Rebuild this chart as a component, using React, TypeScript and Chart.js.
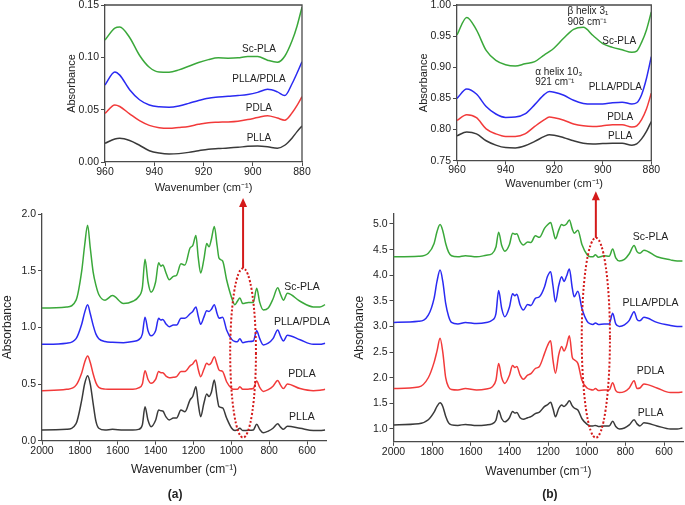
import React, { useEffect, useRef } from "react";
import { Chart, registerables } from "chart.js";

Chart.register(...registerables);

const FONT = "'Liberation Sans', Arial, Helvetica, sans-serif";
const TEXT = "#222";
const AXIS = "#4a4a4a";
const RED_MARK = "#d41a1a";
const SERIES_COLORS = ["#3aa83a", "#2a2af2", "#f23a3a", "#3a3a3a"];
const SERIES_NAMES = ["Sc-PLA", "PLLA/PDLA", "PDLA", "PLLA"];

// ---------- full range spectra (a) and (b) ----------
const WN_FULL = [2000, 1870, 1820, 1790, 1775, 1759, 1745, 1730, 1715, 1700, 1667, 1628, 1570, 1520, 1490, 1470, 1456, 1440, 1424, 1400, 1384, 1372, 1362, 1345, 1328, 1306, 1289, 1266, 1245, 1218, 1204, 1187, 1175, 1162, 1145, 1130, 1118, 1105, 1090, 1075, 1065, 1046, 1025, 998, 981, 968, 955, 940, 910, 884, 866, 850, 831, 805, 780, 755, 740, 725, 704, 637, 567, 532, 505];

const A_SC = [1.17, 1.18, 1.24, 1.5, 1.72, 1.9, 1.7, 1.49, 1.37, 1.29, 1.24, 1.28, 1.21, 1.23, 1.27, 1.35, 1.6, 1.4, 1.31, 1.4, 1.57, 1.54, 1.55, 1.48, 1.42, 1.45, 1.46, 1.56, 1.55, 1.7, 1.72, 1.81, 1.62, 1.48, 1.6, 1.74, 1.71, 1.78, 1.89, 1.72, 1.61, 1.585, 1.42, 1.26, 1.2, 1.23, 1.26, 1.21, 1.22, 1.22, 1.345, 1.22, 1.153, 1.17, 1.25, 1.35, 1.29, 1.24, 1.3, 1.23, 1.18, 1.18, 1.2];
const A_BLEND = [0.85, 0.86, 0.9, 1.03, 1.13, 1.2, 1.12, 1.02, 0.94, 0.9, 0.875, 0.868, 0.865, 0.875, 0.89, 0.94, 1.09, 0.97, 0.926, 0.97, 1.08, 1.065, 1.07, 1.03, 1.006, 1.02, 1.02, 1.08, 1.08, 1.12, 1.14, 1.18, 1.1, 1.027, 1.09, 1.147, 1.14, 1.16, 1.2, 1.12, 1.08, 1.09, 0.977, 0.894, 0.875, 0.873, 0.9, 0.865, 0.875, 0.88, 0.97, 0.9, 0.845, 0.86, 0.9, 0.977, 0.92, 0.88, 0.93, 0.89, 0.85, 0.85, 0.86];
const A_PDLA = [0.441, 0.453, 0.49, 0.6, 0.69, 0.747, 0.69, 0.59, 0.51, 0.47, 0.455, 0.453, 0.453, 0.453, 0.465, 0.5, 0.618, 0.54, 0.506, 0.54, 0.61, 0.6, 0.6, 0.57, 0.556, 0.56, 0.565, 0.61, 0.61, 0.66, 0.677, 0.712, 0.63, 0.565, 0.63, 0.683, 0.67, 0.69, 0.741, 0.67, 0.624, 0.61, 0.52, 0.46, 0.453, 0.453, 0.476, 0.453, 0.455, 0.46, 0.527, 0.47, 0.435, 0.45, 0.48, 0.53, 0.49, 0.46, 0.5, 0.46, 0.441, 0.445, 0.453];
const A_PLLA = [0.094, 0.1, 0.15, 0.36, 0.5, 0.573, 0.5, 0.33, 0.17, 0.11, 0.095, 0.1, 0.094, 0.094, 0.1, 0.14, 0.3, 0.18, 0.124, 0.18, 0.27, 0.265, 0.262, 0.21, 0.183, 0.2, 0.2, 0.27, 0.255, 0.36, 0.39, 0.476, 0.33, 0.212, 0.33, 0.412, 0.39, 0.43, 0.535, 0.38, 0.3, 0.29, 0.2, 0.11, 0.09, 0.095, 0.11, 0.09, 0.092, 0.095, 0.145, 0.1, 0.07, 0.085, 0.11, 0.15, 0.12, 0.1, 0.127, 0.11, 0.09, 0.09, 0.094];

const B_SC = [4.36, 4.37, 4.43, 4.62, 4.85, 4.99, 4.87, 4.62, 4.45, 4.38, 4.36, 4.38, 4.36, 4.39, 4.42, 4.55, 4.84, 4.58, 4.47, 4.6, 4.82, 4.8, 4.81, 4.66, 4.59, 4.65, 4.64, 4.77, 4.74, 4.92, 4.98, 5.03, 4.88, 4.71, 4.88, 4.99, 4.97, 5.0, 5.08, 4.9, 4.82, 4.88, 4.6, 4.4, 4.36, 4.36, 4.4, 4.35, 4.38, 4.37, 4.51, 4.34, 4.28, 4.31, 4.42, 4.58, 4.46, 4.43, 4.49, 4.36, 4.3, 4.28, 4.28];
const B_BLEND = [3.08, 3.1, 3.22, 3.55, 3.88, 4.1, 3.88, 3.45, 3.2, 3.08, 3.05, 3.08, 3.06, 3.08, 3.12, 3.25, 3.7, 3.35, 3.19, 3.38, 3.64, 3.6, 3.63, 3.42, 3.32, 3.43, 3.41, 3.55, 3.58, 3.78, 3.97, 4.07, 3.8, 3.48, 3.8, 3.97, 3.88, 3.98, 4.12, 3.75, 3.58, 3.69, 3.35, 3.1, 3.05, 3.04, 3.07, 3.04, 3.05, 3.05, 3.26, 3.05, 3.0, 3.03, 3.12, 3.29, 3.14, 3.11, 3.18, 3.08, 3.02, 3.0, 3.0];
const B_PDLA = [1.79, 1.82, 2.0, 2.3, 2.52, 2.77, 2.5, 2.0, 1.82, 1.77, 1.76, 1.79, 1.76, 1.78, 1.82, 1.95, 2.28, 2.0, 1.89, 2.05, 2.24, 2.2, 2.22, 2.05, 1.97, 2.05, 2.08, 2.18, 2.22, 2.48, 2.62, 2.72, 2.35, 2.09, 2.45, 2.61, 2.52, 2.62, 2.82, 2.4, 2.35, 2.28, 1.95, 1.8, 1.77, 1.76, 1.79, 1.75, 1.76, 1.76, 1.9, 1.75, 1.71, 1.73, 1.8, 1.94, 1.79, 1.8, 1.88, 1.8, 1.71, 1.71, 1.72];
const B_PLLA = [1.08, 1.1, 1.18, 1.33, 1.44, 1.51, 1.44, 1.25, 1.12, 1.08, 1.07, 1.09, 1.07, 1.08, 1.1, 1.17, 1.36, 1.2, 1.14, 1.22, 1.34, 1.31, 1.32, 1.22, 1.19, 1.22, 1.24, 1.3, 1.33, 1.44, 1.47, 1.52, 1.4, 1.24, 1.4, 1.47, 1.44, 1.48, 1.55, 1.45, 1.41, 1.37, 1.2, 1.09, 1.06, 1.06, 1.07, 1.05, 1.06, 1.06, 1.15, 1.05, 1.0, 1.02, 1.08, 1.18, 1.1, 1.06, 1.12, 1.06, 1.0, 1.0, 1.02];

// ---------- zoomed spectra, 960-880 cm-1 ----------
const WN_ZOOM_A = [960, 956, 954, 950, 946, 942, 938, 934, 930, 926, 922, 918, 914, 910, 906, 902, 898, 894, 890, 887, 884, 882, 880];
const ZA_SC = [0.1166, 0.128, 0.129, 0.119, 0.102, 0.0905, 0.086, 0.0858, 0.088, 0.0915, 0.095, 0.0978, 0.0995, 0.0992, 0.0995, 0.1008, 0.1008, 0.0973, 0.0953, 0.101, 0.116, 0.13, 0.148];
const ZA_BLEND = [0.0736, 0.086, 0.083, 0.069, 0.0595, 0.0545, 0.0527, 0.0523, 0.0535, 0.056, 0.0588, 0.061, 0.062, 0.0628, 0.0635, 0.0645, 0.0665, 0.0694, 0.067, 0.0635, 0.075, 0.085, 0.0958];
const ZA_PDLA = [0.0465, 0.0545, 0.053, 0.046, 0.0395, 0.035, 0.0328, 0.0322, 0.033, 0.034, 0.036, 0.0376, 0.038, 0.0383, 0.039, 0.0405, 0.0425, 0.0443, 0.042, 0.04, 0.047, 0.054, 0.0624];
const ZA_PLLA = [0.0178, 0.022, 0.0226, 0.0205, 0.016, 0.0108, 0.0085, 0.0076, 0.008, 0.0092, 0.0108, 0.0122, 0.0128, 0.0133, 0.014, 0.015, 0.0153, 0.0146, 0.0132, 0.016, 0.023, 0.029, 0.0344];

const WN_ZOOM_B = [960, 956, 952, 948, 944, 940, 936, 932, 928, 924, 922, 920, 916, 912, 908, 904, 900, 896, 892, 888, 886, 884, 882, 880];
const ZB_SC = [0.952, 0.98, 0.96, 0.927, 0.911, 0.904, 0.902, 0.9055, 0.909, 0.92, 0.925, 0.931, 0.947, 0.961, 0.9642, 0.951, 0.938, 0.932, 0.928, 0.924, 0.926, 0.94, 0.96, 0.989];
const ZB_BLEND = [0.85, 0.865, 0.857, 0.837, 0.825, 0.8195, 0.82, 0.825, 0.84, 0.8565, 0.861, 0.86, 0.855, 0.847, 0.842, 0.841, 0.841, 0.843, 0.844, 0.841, 0.843, 0.856, 0.882, 0.917];
const ZB_PDLA = [0.8146, 0.8237, 0.819, 0.801, 0.793, 0.789, 0.789, 0.793, 0.805, 0.816, 0.82, 0.819, 0.815, 0.809, 0.806, 0.805, 0.806, 0.8078, 0.8077, 0.804, 0.806, 0.816, 0.833, 0.8585];
const ZB_PLLA = [0.79, 0.796, 0.793, 0.782, 0.775, 0.771, 0.7705, 0.774, 0.781, 0.789, 0.7917, 0.791, 0.787, 0.782, 0.778, 0.777, 0.7775, 0.778, 0.778, 0.775, 0.777, 0.785, 0.797, 0.813];

// ---------- ticks ----------
const X_TICKS_FULL = [2000, 1800, 1600, 1400, 1200, 1000, 800, 600];
const X_TICKS_ZOOM = [960, 940, 920, 900, 880];
const Y_TICKS_ZA = [0, 0.05, 0.1, 0.15];
const Y_TICKS_ZB = [0.75, 0.8, 0.85, 0.9, 0.95, 1.0];
const Y_TICKS_A = [0, 0.5, 1.0, 1.5, 2.0];
const Y_TICKS_B = [1.0, 1.5, 2.0, 2.5, 3.0, 3.5, 4.0, 4.5, 5.0];

// ---------- label anchors (data coordinates) ----------
const ZA_LABEL_WN = [897.5, 897.5, 897.5, 897.5];
const ZA_LABEL_V = [0.108, 0.0793, 0.0516, 0.0229];
const ZB_LABEL_WN = [893.2, 894.8, 892.8, 892.8];
const ZB_LABEL_V = [0.9423, 0.8686, 0.8205, 0.79];
const A_LABEL_WN = [627, 627, 627, 627];
const A_LABEL_V = [1.356, 1.047, 0.588, 0.209];
const B_LABEL_WN = [670, 670, 670, 670];
const B_LABEL_V = [4.746, 3.464, 2.138, 1.318];

const X_TITLE = "Wavenumber (cm\u207B\u00B9)";
const Y_TITLE = "Absorbance";

type Label = { text: string; wn: number; v: number; size: number; align: CanvasTextAlign; bold?: boolean };
type Ellipse = { wn: number; v: number; rwn: number; rv: number; tipV: number };
type Panel = {
  wn: number[];
  series: number[][];
  xMin: number; xMax: number; xTicks: number[];
  yMin: number; yMax: number; yTicks: number[]; yDec: number;
  pad: { left: number; right: number; top: number; bottom: number };
  yW: number; xH: number; titleSize: number; tickPadX: number;
  frame: boolean;
  labels: Label[];
  ellipse?: Ellipse;
};

const seriesLabels = (wns: number[], vs: number[], size: number): Label[] =>
  SERIES_NAMES.map((t, i) => ({ text: t, wn: wns[i], v: vs[i], size, align: "center" as CanvasTextAlign }));

const PANELS: Panel[] = [
  {
    wn: WN_ZOOM_A, series: [ZA_SC, ZA_BLEND, ZA_PDLA, ZA_PLLA],
    xMin: 880, xMax: 960, xTicks: X_TICKS_ZOOM,
    yMin: 0, yMax: 0.15, yTicks: Y_TICKS_ZA, yDec: 2,
    pad: { left: 65.7, right: 383, top: 5, bottom: 310.1 },
    yW: 39.3, xH: 32.9, titleSize: 11, tickPadX: 0.5, frame: true,
    labels: seriesLabels(ZA_LABEL_WN, ZA_LABEL_V, 10),
  },
  {
    wn: WN_ZOOM_B, series: [ZB_SC, ZB_BLEND, ZB_PDLA, ZB_PLLA],
    xMin: 880, xMax: 960, xTicks: X_TICKS_ZOOM,
    yMin: 0.75, yMax: 1.0, yTicks: Y_TICKS_ZB, yDec: 2,
    pad: { left: 417.1, right: 33.7, top: 5, bottom: 314.4 },
    yW: 39.9, xH: 29.9, titleSize: 11, tickPadX: 0.5, frame: true,
    labels: [
      ...seriesLabels(ZB_LABEL_WN, ZB_LABEL_V, 10),
      { text: "\u03B2 helix 3\u2081", wn: 914.5, v: 0.9904, size: 10, align: "left" },
      { text: "908 cm\u207B\u00B9", wn: 914.5, v: 0.9716, size: 10, align: "left" },
      { text: "\u03B1 helix 10\u2083", wn: 927.8, v: 0.8915, size: 10, align: "left" },
      { text: "921 cm\u207B\u00B9", wn: 927.8, v: 0.8755, size: 10, align: "left" },
    ],
  },
  {
    wn: WN_FULL, series: [A_SC, A_BLEND, A_PDLA, A_PLLA],
    xMin: 500, xMax: 2000, xTicks: X_TICKS_FULL,
    yMin: 0, yMax: 2.0, yTicks: Y_TICKS_A, yDec: 1,
    pad: { left: 0, right: 359, top: 214, bottom: 27.8 },
    yW: 42, xH: 36.5, titleSize: 12, tickPadX: 1.5, frame: false,
    labels: [
      ...seriesLabels(A_LABEL_WN, A_LABEL_V, 10.5),
      { text: "(a)", wn: 1297, v: -0.479, size: 12, align: "center", bold: true },
    ],
    ellipse: { wn: 938, v: 0.774, rwn: 68, rv: 0.747, tipV: 2.141 },
  },
  {
    wn: WN_FULL, series: [B_SC, B_BLEND, B_PDLA, B_PLLA],
    xMin: 500, xMax: 2000, xTicks: X_TICKS_FULL,
    yMin: 0.75, yMax: 5.2, yTicks: Y_TICKS_B, yDec: 1,
    pad: { left: 352.8, right: 1.6, top: 213.75, bottom: 26.1 },
    yW: 40.7, xH: 37.1, titleSize: 12, tickPadX: 1.2, frame: false,
    labels: [
      ...seriesLabels(B_LABEL_WN, B_LABEL_V, 10.5),
      { text: "(b)", wn: 1191, v: -0.288, size: 12, align: "center", bold: true },
    ],
    ellipse: { wn: 953, v: 2.78, rwn: 73, rv: 1.95, tipV: 5.64 },
  },
];

function makePlugin(p: Panel) {
  return {
    id: "annotate",
    afterDraw(chart: any) {
      const ctx: CanvasRenderingContext2D = chart.ctx;
      const xs = chart.scales.x;
      const ys = chart.scales.y;
      const a = chart.chartArea;
      ctx.save();
      if (p.frame) {
        ctx.strokeStyle = AXIS;
        ctx.lineWidth = 1.3;
        ctx.beginPath();
        ctx.moveTo(a.left, a.top);
        ctx.lineTo(a.right, a.top);
        ctx.lineTo(a.right, a.bottom);
        ctx.stroke();
      }
      ctx.fillStyle = TEXT;
      ctx.textBaseline = "middle";
      for (const l of p.labels) {
        ctx.font = `${l.bold ? "bold " : ""}${l.size}px ${FONT}`;
        ctx.textAlign = l.align;
        ctx.fillText(l.text, xs.getPixelForValue(l.wn), ys.getPixelForValue(l.v));
      }
      const e = p.ellipse;
      if (e) {
        const cx = xs.getPixelForValue(e.wn);
        const cy = ys.getPixelForValue(e.v);
        const rx = Math.abs(xs.getPixelForValue(e.wn - e.rwn) - cx);
        const ry = Math.abs(ys.getPixelForValue(e.v + e.rv) - cy);
        ctx.strokeStyle = RED_MARK;
        ctx.fillStyle = RED_MARK;
        ctx.lineWidth = 2;
        ctx.setLineDash([2, 2]);
        ctx.beginPath();
        ctx.ellipse(cx, cy, rx, ry, 0, 0, Math.PI * 2);
        ctx.stroke();
        const top = cy - ry;
        const tip = ys.getPixelForValue(e.tipV);
        ctx.setLineDash([]);
        ctx.beginPath();
        ctx.moveTo(cx, top);
        ctx.lineTo(cx, tip + 7);
        ctx.stroke();
        ctx.beginPath();
        ctx.moveTo(cx, tip);
        ctx.lineTo(cx - 4, tip + 9);
        ctx.lineTo(cx + 4, tip + 9);
        ctx.closePath();
        ctx.fill();
      }
      ctx.restore();
    },
  };
}

function makeConfig(p: Panel): any {
  const tickFont = { family: FONT, size: 10.5, lineHeight: 1 };
  const titleFont = { family: FONT, size: p.titleSize, lineHeight: 1.2 };
  const zeroPad = (s: any) => {
    s.paddingLeft = 0;
    s.paddingRight = 0;
    s.paddingTop = 0;
    s.paddingBottom = 0;
  };
  return {
    type: "line",
    data: {
      datasets: p.series.map((vals, i) => ({
        label: SERIES_NAMES[i],
        data: p.wn.map((w, j) => ({ x: w, y: vals[j] })),
        borderColor: SERIES_COLORS[i],
        borderWidth: 1.5,
        pointRadius: 0,
        fill: false,
        cubicInterpolationMode: "monotone",
      })),
    },
    options: {
      animation: false,
      responsive: false,
      devicePixelRatio: 1,
      events: [],
      layout: { padding: p.pad },
      plugins: { legend: { display: false }, tooltip: { enabled: false } },
      scales: {
        x: {
          type: "linear",
          reverse: true,
          min: p.xMin,
          max: p.xMax,
          afterBuildTicks: (s: any) => {
            s.ticks = p.xTicks.map((value) => ({ value }));
          },
          afterFit: (s: any) => {
            s.height = p.xH;
            zeroPad(s);
          },
          ticks: {
            font: tickFont,
            color: TEXT,
            padding: p.tickPadX,
            maxRotation: 0,
            autoSkip: false,
            callback: (v: any) => String(v),
          },
          grid: { display: true, drawOnChartArea: false, drawTicks: true, tickLength: 4, color: AXIS, lineWidth: 1 },
          border: { display: true, color: AXIS, width: 1.3 },
          title: { display: true, text: X_TITLE, font: titleFont, color: TEXT, padding: 0 },
        },
        y: {
          type: "linear",
          min: p.yMin,
          max: p.yMax,
          afterBuildTicks: (s: any) => {
            s.ticks = p.yTicks.map((value) => ({ value }));
          },
          afterFit: (s: any) => {
            s.width = p.yW;
            zeroPad(s);
          },
          ticks: {
            font: tickFont,
            color: TEXT,
            padding: 2,
            autoSkip: false,
            callback: (v: any) => Number(v).toFixed(p.yDec),
          },
          grid: { display: true, drawOnChartArea: false, drawTicks: true, tickLength: 4, color: AXIS, lineWidth: 1 },
          border: { display: true, color: AXIS, width: 1.3 },
          title: { display: true, text: Y_TITLE, font: titleFont, color: TEXT, padding: 0 },
        },
      },
    },
    plugins: [makePlugin(p)],
  };
}

function PanelCanvas({ panel }: { panel: Panel }) {
  const ref = useRef<HTMLCanvasElement | null>(null);
  useEffect(() => {
    if (!ref.current) return;
    const chart = new Chart(ref.current, makeConfig(panel));
    return () => chart.destroy();
  }, [panel]);
  return (
    <canvas
      ref={ref}
      width={685}
      height={505}
      style={{ position: "absolute", left: 0, top: 0, width: 685, height: 505, pointerEvents: "none" }}
    />
  );
}

export default function App() {
  return (
    <div style={{ position: "fixed", left: 0, top: 0, width: 685, height: 505, background: "#fff", overflow: "hidden" }}>
      {PANELS.map((p, i) => (
        <PanelCanvas key={i} panel={p} />
      ))}
    </div>
  );
}
